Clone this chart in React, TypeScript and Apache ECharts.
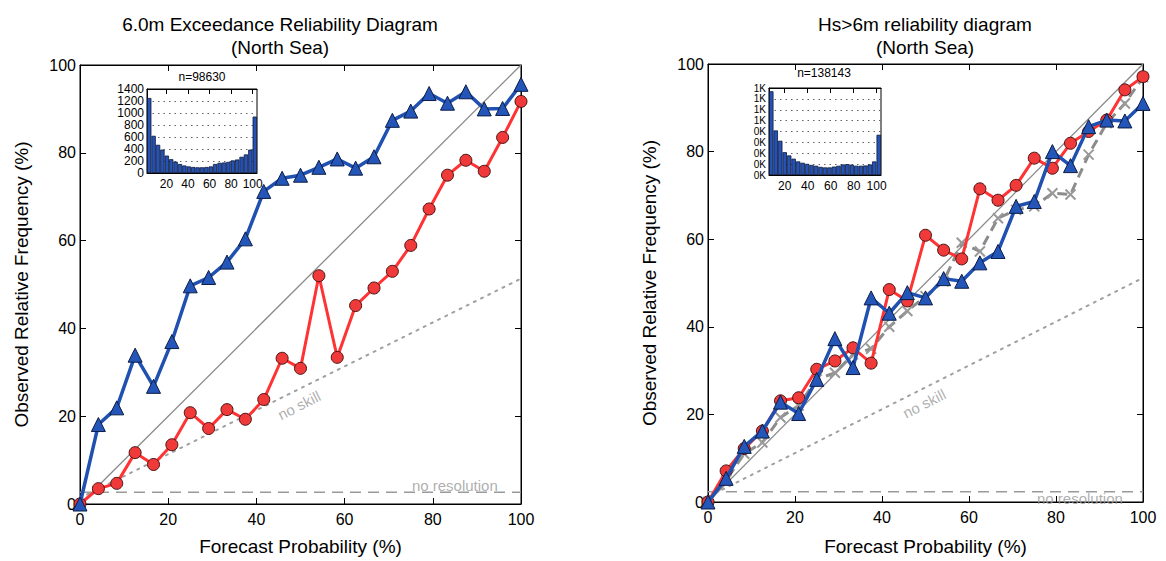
import React, { useEffect, useRef } from "react";
import * as echarts from "echarts";

// forecast probability bins (k/24 of a 24-member ensemble)
const probs = [0, 4.17, 8.33, 12.5, 16.67, 20.83, 25, 29.17, 33.33, 37.5, 41.67, 45.83, 50, 54.17, 58.33, 62.5, 66.67, 70.83, 75, 79.17, 83.33, 87.5, 91.67, 95.83, 100];

// left panel: 6.0m exceedance
const leftBlue = [0, 18.1, 21.9, 33.9, 26.8, 37.0, 49.7, 51.6, 55.1, 60.4, 71.2, 74.2, 74.9, 76.7, 78.6, 76.5, 79.1, 87.4, 89.5, 93.5, 91.3, 93.9, 90.0, 90.1, 95.6];
const leftRed = [0, 3.5, 4.7, 11.7, 9.0, 13.5, 20.8, 17.2, 21.5, 19.3, 23.8, 33.2, 30.9, 52.0, 33.4, 45.2, 49.2, 53.0, 58.9, 67.2, 74.9, 78.3, 75.8, 83.5, 91.7];
const leftHist = [1250, 620, 470, 390, 290, 230, 190, 150, 125, 110, 100, 95, 95, 100, 110, 150, 170, 175, 185, 210, 225, 270, 310, 390, 940];
const leftClim = 2.7;

// right panel: Hs > 6m
const rightRed = [0, 7.1, 12.2, 16.2, 23.1, 23.8, 30.3, 32.2, 35.2, 31.7, 48.5, 45.9, 60.9, 57.5, 55.5, 71.5, 68.9, 72.3, 78.5, 76.2, 81.9, 84.6, 87.2, 94.1, 97.1];
const rightBlue = [0, 5.4, 12.7, 16.2, 22.8, 20.2, 28.0, 37.3, 30.7, 46.6, 43.1, 47.8, 46.6, 51.0, 50.4, 54.6, 57.2, 67.5, 68.6, 80.0, 76.8, 85.7, 87.2, 87.0, 91.0];
const rightGray = [0, 5.0, 11.0, 13.6, 19.3, 22.0, 28.0, 29.5, 33.7, 35.0, 40.0, 43.6, 47.0, 50.4, 59.2, 57.2, 64.8, 66.7, 67.5, 70.5, 70.2, 79.3, 86.5, 91.0, 97.0];
const rightHist = [1540, 820, 630, 420, 360, 300, 250, 225, 205, 185, 170, 150, 140, 140, 155, 170, 195, 200, 190, 170, 170, 175, 195, 250, 740];
const rightClim = 2.35;

const insetTicks = [20, 40, 60, 80, 100];

const FONT = "'Liberation Sans', Arial, Helvetica, sans-serif";

export default function App() {
  const ref = useRef<HTMLDivElement>(null);

  useEffect(() => {
    if (!ref.current) return;
    const chart = echarts.init(ref.current, undefined, { renderer: "svg" });

    const pair = (ys: number[]) => probs.map((p, i) => [p, ys[i]]);

    const mainX = (grid: number, pos: "bottom" | "top", name?: string, nameGap?: number) => ({
      type: "value",
      gridIndex: grid,
      position: pos,
      min: 0,
      max: 100,
      interval: 20,
      name: name,
      nameLocation: "middle",
      nameGap: nameGap,
      nameTextStyle: { fontSize: 19, color: "#000", fontFamily: FONT },
      axisLine: { show: true, onZero: false, lineStyle: { color: "#000", width: 1 } },
      axisTick: { show: true, inside: true, length: 6, lineStyle: { color: "#000" } },
      axisLabel: { show: pos === "bottom", fontSize: 16, color: "#000", margin: 7, fontFamily: FONT },
      splitLine: { show: false },
    });
    const mainY = (grid: number, pos: "left" | "right", name?: string) => ({
      type: "value",
      gridIndex: grid,
      position: pos,
      min: 0,
      max: 100,
      interval: 20,
      name: name,
      nameLocation: "middle",
      nameGap: 49,
      nameTextStyle: { fontSize: 19, color: "#000", fontFamily: FONT },
      axisLine: { show: true, onZero: false, lineStyle: { color: "#000", width: 1 } },
      axisTick: { show: true, inside: true, length: 6, lineStyle: { color: "#000" } },
      axisLabel: { show: pos === "left", fontSize: 16, color: "#000", margin: 4, fontFamily: FONT },
      splitLine: { show: false },
    });
    const insetCat = (grid: number) => ({
      type: "category",
      gridIndex: grid,
      data: probs.map((p) => String(p)),
      show: false,
      boundaryGap: true,
    });
    const insetVal = (grid: number, pos: "bottom" | "top", min: number, max: number) => ({
      type: "value",
      gridIndex: grid,
      position: pos,
      min,
      max,
      axisLine: { show: true, onZero: false, lineStyle: { color: "#000", width: 1 } },
      axisTick: { show: pos === "top", inside: true, length: 5, customValues: insetTicks, lineStyle: { color: "#000" } },
      axisLabel: { show: pos === "bottom", customValues: insetTicks, fontSize: 12, color: "#000", margin: 5, fontFamily: FONT },
      splitLine: { show: false },
    });
    const insetY = (grid: number, max: number, size: number, fmt: (v: number) => string) => ({
      type: "value",
      gridIndex: grid,
      min: 0,
      max,
      interval: 200,
      axisLine: { show: true, lineStyle: { color: "#000" } },
      axisTick: { show: false },
      axisLabel: { fontSize: size, color: "#000", margin: 3, formatter: fmt, fontFamily: FONT, lineHeight: size, hideOverlap: false },
      splitLine: { show: true, lineStyle: { color: "#666", type: [1.5, 4], width: 1.2 } },
    });

    const refLines = (xi: number, yi: number, clim: number) => [
      {
        type: "line",
        xAxisIndex: xi,
        yAxisIndex: yi,
        data: [[0, 0], [100, 100]],
        symbol: "none",
        lineStyle: { color: "#8a8a8a", width: 1.3 },
        z: 1,
      },
      {
        type: "line",
        xAxisIndex: xi,
        yAxisIndex: yi,
        data: [[0, clim / 2], [100, 50 + clim / 2]],
        symbol: "none",
        lineStyle: { color: "#a0a0a0", width: 2, type: [2, 6], cap: "round" },
        z: 1,
      },
      {
        type: "line",
        xAxisIndex: xi,
        yAxisIndex: yi,
        data: [[0, clim], [100, clim]],
        symbol: "none",
        lineStyle: { color: "#9a9a9a", width: 1.5, type: [11, 7] },
        z: 1,
      },
    ];

    const labelSeries = (xi: number, yi: number, text: string, x: number, y: number, rot: number) => ({
      type: "scatter",
      xAxisIndex: xi,
      yAxisIndex: yi,
      symbolSize: 0,
      data: [[x, y]],
      silent: true,
      label: {
        show: true,
        position: "inside",
        formatter: text,
        rotate: rot,
        color: "#9a9a9a",
        fontSize: 15,
        fontFamily: FONT,
      },
      z: 2,
    });

    const redSeries = (xi: number, yi: number, ys: number[]) => ({
      type: "line",
      xAxisIndex: xi,
      yAxisIndex: yi,
      data: pair(ys),
      symbol: "circle",
      symbolSize: 12,
      showSymbol: true,
      lineStyle: { color: "#ff3333", width: 3 },
      itemStyle: { color: "#f03a3a", borderColor: "#4a1212", borderWidth: 1 },
      z: 4,
    });
    const blueSeries = (xi: number, yi: number, ys: number[]) => ({
      type: "line",
      xAxisIndex: xi,
      yAxisIndex: yi,
      data: pair(ys),
      symbol: "triangle",
      symbolSize: 14,
      showSymbol: true,
      lineStyle: { color: "#2050b0", width: 3.5 },
      itemStyle: { color: "#2356b8", borderColor: "#0c1c44", borderWidth: 1 },
      z: 5,
    });
    const histSeries = (xi: number, yi: number, vals: number[]) => ({
      type: "bar",
      xAxisIndex: xi,
      yAxisIndex: yi,
      data: vals,
      barCategoryGap: "0%",
      itemStyle: { color: "#2652b4", borderColor: "#0b1a3c", borderWidth: 0.8 },
      z: 3,
    });

    const texts = [
      { x: 280, y: 24, t: "6.0m Exceedance Reliability Diagram", s: 19 },
      { x: 280, y: 47, t: "(North Sea)", s: 19 },
      { x: 925, y: 24, t: "Hs>6m reliability diagram", s: 19 },
      { x: 925, y: 47, t: "(North Sea)", s: 19 },
      { x: 202, y: 77, t: "n=98630", s: 12 },
      { x: 824, y: 73, t: "n=138143", s: 12 },
    ];

    chart.setOption({
      animation: false,
      backgroundColor: "#fff",
      textStyle: { fontFamily: FONT },
      grid: [
        { left: 80, top: 65, width: 441, height: 441, show: true, borderColor: "#000", borderWidth: 1, backgroundColor: "transparent" },
        { left: 147, top: 89, width: 110, height: 84, show: true, borderColor: "#000", borderWidth: 1, backgroundColor: "#fff" },
        { left: 708, top: 64, width: 435, height: 438, show: true, borderColor: "#000", borderWidth: 1, backgroundColor: "transparent" },
        { left: 769, top: 88, width: 112, height: 87, show: true, borderColor: "#000", borderWidth: 1, backgroundColor: "#fff" },
      ],
      xAxis: [
        mainX(0, "bottom", "Forecast Probability (%)", 33),
        mainX(0, "top"),
        insetCat(1),
        insetVal(1, "bottom", 2, 104),
        insetVal(1, "top", 2, 104),
        mainX(2, "bottom", "Forecast Probability (%)", 35),
        mainX(2, "top"),
        insetCat(3),
        insetVal(3, "bottom", 6.3, 103.8),
        insetVal(3, "top", 6.3, 103.8),
      ],
      yAxis: [
        mainY(0, "left", "Observed Relative Frequency (%)"),
        mainY(0, "right"),
        insetY(1, 1400, 12, (v: number) => String(v)),
        mainY(2, "left", "Observed Relative Frequency (%)"),
        mainY(2, "right"),
        insetY(3, 1600, 10, (v: number) => Math.floor(v / 1000) + "K"),
      ],
      graphic: texts.map((d) => ({
        type: "text",
        x: d.x,
        y: d.y,
        style: {
          text: d.t,
          fontSize: d.s,
          fill: "#000",
          align: "center",
          verticalAlign: "middle",
          fontFamily: FONT,
        },
        z: 10,
      })),
      series: [
        ...refLines(0, 0, leftClim),
        labelSeries(0, 0, "no skill", 49.7, 22.5, 27),
        labelSeries(0, 0, "no resolution", 85, 4.3, 0),
        redSeries(0, 0, leftRed),
        blueSeries(0, 0, leftBlue),
        histSeries(2, 2, leftHist),
        ...refLines(5, 3, rightClim),
        labelSeries(5, 3, "no skill", 49.7, 22.5, 27),
        labelSeries(5, 3, "no resolution", 85.5, 0.9, 0),
        {
          type: "line",
          xAxisIndex: 5,
          yAxisIndex: 3,
          data: pair(rightGray),
          symbol: "path://M0,0L10,10M10,0L0,10",
          symbolSize: 10,
          showSymbol: true,
          lineStyle: { color: "#8c8c8c", width: 3, type: [10, 6] },
          itemStyle: { color: "rgba(0,0,0,0)", borderColor: "#999", borderWidth: 2 },
          z: 3,
        },
        redSeries(5, 3, rightRed),
        blueSeries(5, 3, rightBlue),
        histSeries(7, 5, rightHist),
      ],
    });

    return () => chart.dispose();
  }, []);

  return <div ref={ref} style={{ position: "absolute", left: 0, top: 0, width: 1166, height: 561 }} />;
}
